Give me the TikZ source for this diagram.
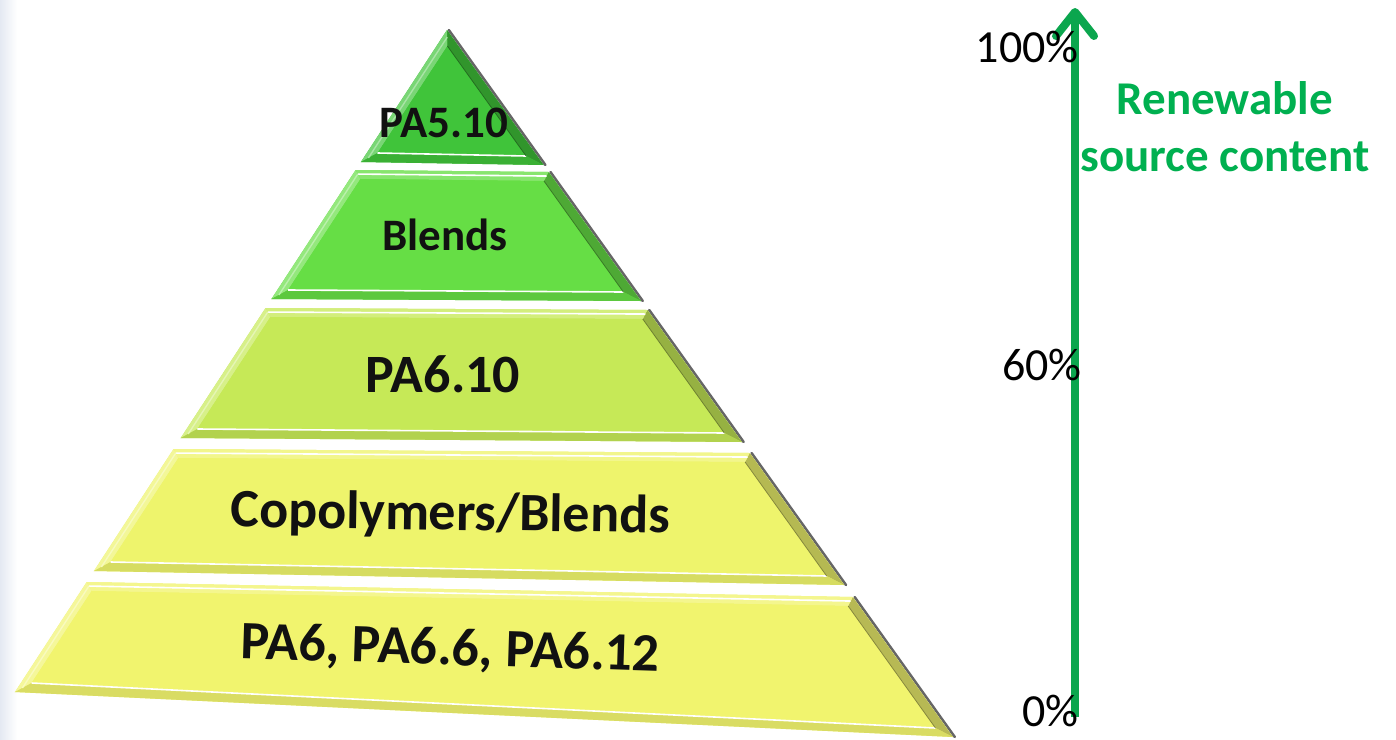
\documentclass[tikz,border=0pt]{standalone}
\usepackage{fontspec}
\setmainfont{Carlito}
\usetikzlibrary{arrows.meta,calc}
\definecolor{pyrA}{HTML}{40C43A}
\definecolor{pyrB}{HTML}{66DE45}
\definecolor{pyrC}{HTML}{C6E957}
\definecolor{pyrD}{HTML}{EEF46C}
\definecolor{pyrE}{HTML}{F1F46E}
\definecolor{rgreen}{HTML}{00B050}
\definecolor{axgreen}{HTML}{0BA64E}
\definecolor{inkblack}{HTML}{111111}
\definecolor{stripblue}{HTML}{E4E9F2}
% left edge: x = 447 - 0.6526 (y-30); right edge: x = 447 + 0.7157 (y-30)
\newcommand\pyrfaces[1]{%
  \draw[line width=2.5pt, black!60, line cap=round] ($(B)+(1.8,0)$) -- ($(C)+(1.8,0)$);
  \fill[#1] (A) -- (B) -- (C) -- (D) -- cycle;
  \fill[#1!70!white] (A) -- (a) -- (d) -- (D) -- cycle;
  \fill[#1!76!black] (B) -- (C) -- (c) -- (b) -- cycle;
  \fill[#1!78!white] (A) -- (B) -- (b) -- (a) -- cycle;
  \fill[#1!90!black] (D) -- (C) -- (c) -- (d) -- cycle;
  \fill[#1] (a) -- (b) -- (c) -- (d) -- cycle;
  \draw[white, line width=1.6pt] ($(A)!0.45!(a)$) -- ($(B)!0.45!(b)$);
  \draw[white, line width=1.6pt] (d) -- (c);
  \draw[white!55!#1, line width=1.4pt] ($(A)!0.45!(a)$) -- ($(D)!0.45!(d)$);
  \draw[#1!55!black, line width=0.8pt] (b) -- (c);
}
\newcommand\pyrlayer[5]{%
  \pgfmathsetmacro\pyAx{447-0.6526*(#1-30)}%
  \pgfmathsetmacro\pyBx{447+0.7157*(#2-30)}%
  \pgfmathsetmacro\pyCx{447+0.7157*(#4-30)}%
  \pgfmathsetmacro\pyDx{447-0.6526*(#3-30)}%
  \pgfmathsetmacro\pyax{447-0.6526*(#1+9-30)+10.7}%
  \pgfmathsetmacro\pybx{447+0.7157*(#2+9-30)-11.1}%
  \pgfmathsetmacro\pycx{447+0.7157*(#4-9-30)-11.1}%
  \pgfmathsetmacro\pydx{447-0.6526*(#3-9-30)+10.7}%
  \coordinate (A) at (\pyAx,#1);
  \coordinate (B) at (\pyBx,#2);
  \coordinate (C) at (\pyCx,#4);
  \coordinate (D) at (\pyDx,#3);
  \coordinate (a) at (\pyax,#1+9);
  \coordinate (b) at (\pybx,#2+9);
  \coordinate (c) at (\pycx,#4-9);
  \coordinate (d) at (\pydx,#3-9);
  \pyrfaces{#5}%
}
\tikzset{
  laytext/.style={text=inkblack, inner sep=0pt, anchor=base},
  pct/.style={font=\fontsize{46}{55}\selectfont, anchor=base east, inner sep=0pt, text=black},
  axisarrow/.style={draw=axgreen, line width=8pt, -{Straight Barb[length=24pt, width=38pt, round]}},
}
\begin{document}
\begin{tikzpicture}[x=1pt,y=-1pt]
\useasboundingbox (0,0) rectangle (1396,739);
\fill[white] (0,0) rectangle (1396,739);
\shade[left color=stripblue, right color=white] (0,0) rectangle (17,739);

% apex layer
\coordinate (A) at (447,30);
\coordinate (B) at (447,30);
\coordinate (C) at (543.6,165);
\coordinate (D) at (360.9,162);
\coordinate (a) at (447.4,46);
\coordinate (b) at (447.4,46);
\coordinate (c) at (526.1,156);
\coordinate (d) at (377.5,153);
\pyrfaces{pyrA}
% other layers: top-left y, top-right y, bottom-left y, bottom-right y
\pyrlayer{170}{172}{299}{301}{pyrB}
\pyrlayer{308}{310}{438}{442}{pyrC}
\pyrlayer{449}{453}{571}{585}{pyrD}
\pyrlayer{582}{597}{692}{737}{pyrE}

\node[laytext, font=\bfseries\fontsize{45}{54}\selectfont] (t1) at (444,137) {PA5.10};
\node[laytext, font=\bfseries\fontsize{45}{54}\selectfont] (t2) at (445,250) {Blends};
\node[laytext, font=\bfseries\fontsize{54}{64}\selectfont] (t3) at (443,392) {PA6.10};
\node[laytext, font=\bfseries\fontsize{54}{64}\selectfont, rotate=-0.8] (t4) at (450,530) {Copolymers/Blends};
\node[laytext, font=\bfseries\fontsize{54}{64}\selectfont, rotate=-1.8] (t5) at (450,665) {PA6, PA6.6, PA6.12};

% axis
\coordinate (axbot) at (1075,717);
\coordinate (axtop) at (1075,8);
\draw[axisarrow] (axbot) -- (axtop);
\node[pct] (p100) at (1079,62) {100\%};
\node[pct] (p60) at (1082,380) {60\%};
\node[pct] (p0) at (1079,726) {0\%};
\node[anchor=north, inner sep=0pt, align=center, text=rgreen, font=\bfseries\fontsize{47}{57}\selectfont] (rsc) at (1225,81) {Renewable\\source content};
\end{tikzpicture}
\end{document}
